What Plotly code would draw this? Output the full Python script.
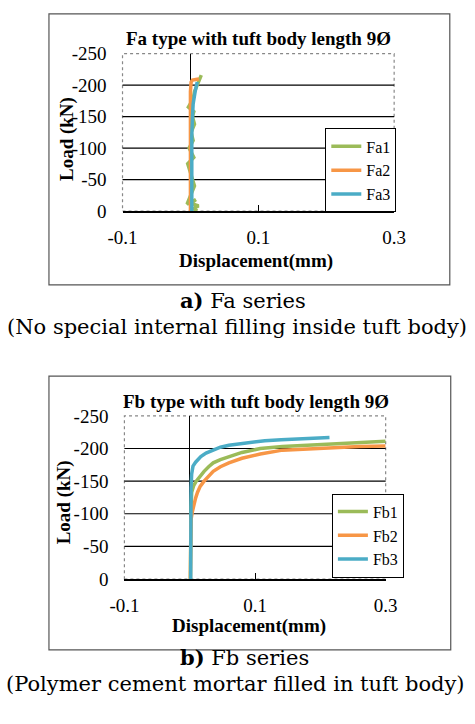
import plotly.graph_objects as go

# ---------------- data ----------------
FA1_X = [0.010, 0.004, 0.012, 0.001, 0.008, -0.005, 0.006, 0.002, -0.004, 0.005, -0.002, 0.004, 0.001, 0.006, 0.003, 0.005, -0.003, 0.004, 0.006, 0.010, 0.0125, 0.016]
FA1_Y = [0, -4, -8, -12, -18, -11, -40, -55, -75, -85, -100, -112, -125, -138, -150, -158, -165, -178, -190, -200, -207, -216]
FA2_X = [0.000, 0.000, -0.001, -0.001, -0.001, 0.000, 0.000, 0.001, 0.003, 0.008, 0.0125]
FA2_Y = [0, -40, -80, -120, -150, -170, -190, -205, -208, -209, -210]
FA3_X = [0.002, 0.002, 0.001, 0.002, 0.003, 0.003, 0.004, 0.007, 0.010]
FA3_Y = [0, -40, -80, -120, -150, -160, -170, -190, -205]

FB1_X = [0.001, 0.001, 0.002, 0.003, 0.006, 0.010, 0.016, 0.022, 0.029, 0.036, 0.047, 0.060, 0.080, 0.108, 0.142, 0.180, 0.214, 0.260, 0.300]
FB1_Y = [0, -60, -110, -133, -143, -150, -158, -165, -172, -178, -183, -187.5, -194, -200, -203, -205, -207, -209, -211]
FB2_X = [0.001, 0.001, 0.002, 0.004, 0.006, 0.009, 0.012, 0.016, 0.022, 0.029, 0.036, 0.047, 0.060, 0.080, 0.108, 0.142, 0.180, 0.214, 0.260, 0.300]
FB2_Y = [0, -50, -91, -103, -113, -124, -133, -142, -150, -158, -165, -172, -178, -185, -191.5, -197.5, -199.5, -201, -203, -204]
FB3_X = [0.0015, 0.0015, 0.002, 0.003, 0.005, 0.009, 0.013, 0.017, 0.025, 0.036, 0.047, 0.060, 0.080, 0.094, 0.108, 0.115, 0.140, 0.166, 0.190, 0.214]
FB3_Y = [0, -80, -140, -161, -173, -179, -183, -187.5, -193, -198, -202, -205, -208, -210, -211, -212, -213.5, -215, -216, -217]

Y_TICKS = [0, -50, -100, -150, -200, -250]
Y_LABELS = ["0", "-50", "-100", "-150", "-200", "-250"]
X_TICKS = [-0.1, 0.1, 0.3]
X_LABELS = ["-0.1", "0.1", "0.3"]
GRID_Y = [-50, -100, -150, -200]

GREEN, ORANGE, BLUE = "#9BBB59", "#F79646", "#4BACC6"
FONT = "Liberation Serif"
CAP_FONT = "DejaVu Serif"
W, H = 475, 724


def px(x):
    return x / W


def py(y):
    return 1 - y / H


fig = go.Figure()

series_a = [("Fa1", FA1_X, FA1_Y, GREEN), ("Fa2", FA2_X, FA2_Y, ORANGE), ("Fa3", FA3_X, FA3_Y, BLUE)]
series_b = [("Fb1", FB1_X, FB1_Y, GREEN), ("Fb2", FB2_X, FB2_Y, ORANGE), ("Fb3", FB3_X, FB3_Y, BLUE)]

for name, xs, ys, c in series_a:
    fig.add_trace(go.Scatter(x=xs, y=ys, name=name, mode="lines",
                             line=dict(color=c, width=3.5), xaxis="x", yaxis="y", legend="legend"))
for name, xs, ys, c in series_b:
    fig.add_trace(go.Scatter(x=xs, y=ys, name=name, mode="lines",
                             line=dict(color=c, width=3.5), xaxis="x2", yaxis="y2", legend="legend2"))

PA = (114, 402, 45, 207)
PB = (116, 393, 418, 586)

xcommon = dict(range=[-0.1, 0.3], tickvals=X_TICKS, ticktext=X_LABELS, ticks="inside", ticklen=6,
               tickcolor="black", showgrid=False, zeroline=True, zerolinecolor="black", zerolinewidth=1.2,
               showline=True, linecolor="black", linewidth=1.5, ticklabelstandoff=8,
               tickfont=dict(family=FONT, size=19, color="black"), fixedrange=True)
ycommon = dict(range=[0, -250], tickvals=Y_TICKS, ticktext=Y_LABELS, ticks="", showgrid=False,
               zeroline=False, showline=False, ticklabelstandoff=15,
               tickfont=dict(family=FONT, size=19, color="black"), fixedrange=True)

fig.update_layout(
    width=W, height=H, margin=dict(l=0, r=0, t=0, b=0),
    paper_bgcolor="white", plot_bgcolor="white",
    font=dict(family=FONT),
    xaxis=dict(domain=[px(PA[0]), px(PA[1])], anchor="y", **xcommon),
    yaxis=dict(domain=[py(PA[3]), py(PA[2])], anchor="x", **ycommon),
    xaxis2=dict(domain=[px(PB[0]), px(PB[1])], anchor="y2", **xcommon),
    yaxis2=dict(domain=[py(PB[3]), py(PB[2])], anchor="x2", **ycommon),
    legend=dict(x=px(329), y=py(122), xanchor="left", yanchor="top", bgcolor="white",
                bordercolor="black", borderwidth=1, font=dict(family=FONT, size=16, color="black"),
                tracegroupgap=0, itemwidth=30),
    legend2=dict(x=px(336), y=py(498), xanchor="left", yanchor="top", bgcolor="white",
                 bordercolor="black", borderwidth=1, font=dict(family=FONT, size=16, color="black"),
                 tracegroupgap=0, itemwidth=30),
    showlegend=True,
)

shapes = []
shapes.append(dict(type="rect", xref="paper", yref="paper", x0=px(36), x1=px(461), y0=py(283), y1=py(4),
                   line=dict(color="#555555", width=1.2), layer="below"))
shapes.append(dict(type="rect", xref="paper", yref="paper", x0=px(36), x1=px(462), y0=py(659), y1=py(377),
                   line=dict(color="#555555", width=1.2), layer="below"))
for xa, ya in (("x", "y"), ("x2", "y2")):
    shapes.append(dict(type="rect", xref=f"{xa} domain", yref=f"{ya} domain", x0=0, x1=1, y0=0, y1=1,
                       line=dict(color="#888888", width=1.2, dash="dot"), layer="below"))
    for g in GRID_Y:
        shapes.append(dict(type="line", xref=f"{xa} domain", yref=ya, x0=0, x1=1, y0=g, y1=g,
                           line=dict(color="black", width=1.2), layer="below"))
fig.update_layout(shapes=shapes)

ann = []
bold = dict(family=FONT, size=19, color="black")
ann.append(dict(text="<b>Fa type with tuft body length 9Ø</b>", x=px(258), y=py(29), font=bold))
ann.append(dict(text="<b>Fb type with tuft body length 9Ø</b>", x=px(255), y=py(403), font=bold))
ann.append(dict(text="<b>Load (kN)</b>", x=px(55), y=py(133), textangle=-90, font=bold))
ann.append(dict(text="<b>Load (kN)</b>", x=px(52), y=py(507), textangle=-90, font=bold))
ann.append(dict(text="<b>Displacement(mm)</b>", x=px(255), y=py(259), font=bold))
ann.append(dict(text="<b>Displacement(mm)</b>", x=px(248), y=py(634), font=bold))
cap = dict(family=CAP_FONT, size=21, color="black")
ann.append(dict(text="<b>a)</b> Fa series", x=px(242), y=py(299), font=cap))
ann.append(dict(text="(No special internal filling inside tuft body)", x=px(235), y=py(326), font=cap))
ann.append(dict(text="<b>b)</b> Fb series", x=px(243), y=py(667), font=cap))
ann.append(dict(text="(Polymer cement mortar filled in tuft body)", x=px(234), y=py(694), font=cap))
for a in ann:
    a.update(xref="paper", yref="paper", xanchor="center", yanchor="middle", showarrow=False)
fig.update_layout(annotations=ann)

fig.write_html("out.html", config={"displayModeBar": False},
               post_script="document.body.style.margin='0';document.body.style.overflow='hidden';")
